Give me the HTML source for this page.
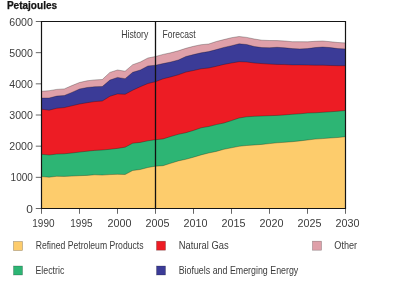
<!DOCTYPE html>
<html><head><meta charset="utf-8"><style>
html,body{margin:0;padding:0;background:#fff;width:400px;height:282px;overflow:hidden}
svg{display:block;will-change:transform}
text{font-family:"Liberation Sans",sans-serif;fill:#3c3c3c}
.b{fill:#141414;stroke:#141414;stroke-width:.25px}
</style></head><body>
<svg width="400" height="282" viewBox="0 0 400 282">
<rect width="400" height="282" fill="#fff"/>
<polygon fill="#DFA0A9" points="41.5,208.5 41.50,91.30 49.10,90.70 56.70,89.40 64.30,88.90 71.90,85.60 79.50,82.50 87.10,80.80 94.70,79.90 102.30,79.50 109.90,72.40 117.50,70.00 125.10,71.20 132.70,64.70 140.30,62.00 147.90,58.00 155.50,56.50 163.10,54.40 170.70,52.80 178.30,50.80 185.90,48.30 193.50,46.30 201.10,44.70 208.70,44.00 216.30,41.50 223.90,39.60 231.50,37.70 239.10,36.50 246.70,37.40 254.30,39.00 261.90,40.20 269.50,40.50 277.10,40.60 284.70,41.00 292.30,41.70 299.90,41.70 307.50,41.80 315.10,41.30 322.70,41.00 330.30,41.70 337.90,42.50 345.50,42.90 345.5,208.5"/>
<polygon fill="#3B3B97" points="41.5,208.5 41.50,98.00 49.10,98.00 56.70,96.10 64.30,95.50 71.90,92.40 79.50,89.00 87.10,87.50 94.70,86.70 102.30,86.50 109.90,80.10 117.50,77.40 125.10,78.70 132.70,72.30 140.30,70.00 147.90,66.00 155.50,65.20 163.10,63.60 170.70,62.00 178.30,60.00 185.90,56.50 193.50,54.60 201.10,52.80 208.70,51.60 216.30,49.60 223.90,47.40 231.50,45.70 239.10,43.80 246.70,44.50 254.30,46.50 261.90,47.60 269.50,47.70 277.10,47.30 284.70,47.80 292.30,48.60 299.90,48.90 307.50,48.60 315.10,47.60 322.70,47.00 330.30,47.60 337.90,48.60 345.50,48.90 345.5,208.5"/>
<polygon fill="#ED1C24" points="41.5,208.5 41.50,109.20 49.10,110.20 56.70,108.30 64.30,107.60 71.90,105.80 79.50,104.00 87.10,102.70 94.70,101.60 102.30,101.00 109.90,96.30 117.50,93.90 125.10,94.30 132.70,90.20 140.30,86.70 147.90,83.50 155.50,81.70 163.10,78.80 170.70,76.90 178.30,74.80 185.90,72.10 193.50,70.50 201.10,68.80 208.70,68.00 216.30,66.30 223.90,64.40 231.50,63.00 239.10,61.70 246.70,62.00 254.30,63.00 261.90,63.60 269.50,64.10 277.10,64.40 284.70,64.60 292.30,64.90 299.90,64.90 307.50,65.10 315.10,65.20 322.70,65.20 330.30,65.50 337.90,65.70 345.50,65.70 345.5,208.5"/>
<polygon fill="#2DB574" points="41.5,208.5 41.50,154.30 49.10,155.00 56.70,154.10 64.30,153.80 71.90,153.00 79.50,152.10 87.10,151.20 94.70,150.40 102.30,150.00 109.90,149.30 117.50,148.40 125.10,147.20 132.70,143.20 140.30,142.40 147.90,140.80 155.50,139.70 163.10,138.90 170.70,136.50 178.30,134.30 185.90,132.70 193.50,130.40 201.10,127.80 208.70,126.50 216.30,124.60 223.90,123.00 231.50,120.60 239.10,118.00 246.70,116.80 254.30,116.30 261.90,116.00 269.50,115.70 277.10,115.40 284.70,114.90 292.30,114.30 299.90,113.80 307.50,113.05 315.10,112.80 322.70,112.30 330.30,111.80 337.90,111.20 345.50,110.50 345.5,208.5"/>
<polygon fill="#FDCC6C" points="41.5,208.5 41.50,176.60 49.10,177.20 56.70,176.30 64.30,176.40 71.90,176.10 79.50,175.70 87.10,175.40 94.70,174.80 102.30,175.10 109.90,174.60 117.50,174.30 125.10,174.50 132.70,170.50 140.30,169.50 147.90,167.50 155.50,166.20 163.10,165.70 170.70,163.30 178.30,160.90 185.90,159.30 193.50,157.20 201.10,154.90 208.70,153.00 216.30,151.40 223.90,149.30 231.50,147.80 239.10,146.30 246.70,145.50 254.30,145.00 261.90,144.40 269.50,143.60 277.10,142.80 284.70,142.30 292.30,141.70 299.90,140.90 307.50,140.00 315.10,139.10 322.70,138.60 330.30,138.00 337.90,137.50 345.50,136.70 345.5,208.5"/>
<polyline fill="none" stroke="#000" stroke-opacity=".45" stroke-width=".6" points="41.50,91.30 49.10,90.70 56.70,89.40 64.30,88.90 71.90,85.60 79.50,82.50 87.10,80.80 94.70,79.90 102.30,79.50 109.90,72.40 117.50,70.00 125.10,71.20 132.70,64.70 140.30,62.00 147.90,58.00 155.50,56.50 163.10,54.40 170.70,52.80 178.30,50.80 185.90,48.30 193.50,46.30 201.10,44.70 208.70,44.00 216.30,41.50 223.90,39.60 231.50,37.70 239.10,36.50 246.70,37.40 254.30,39.00 261.90,40.20 269.50,40.50 277.10,40.60 284.70,41.00 292.30,41.70 299.90,41.70 307.50,41.80 315.10,41.30 322.70,41.00 330.30,41.70 337.90,42.50 345.50,42.90"/>
<polyline fill="none" stroke="#000" stroke-opacity=".45" stroke-width=".6" points="41.50,98.00 49.10,98.00 56.70,96.10 64.30,95.50 71.90,92.40 79.50,89.00 87.10,87.50 94.70,86.70 102.30,86.50 109.90,80.10 117.50,77.40 125.10,78.70 132.70,72.30 140.30,70.00 147.90,66.00 155.50,65.20 163.10,63.60 170.70,62.00 178.30,60.00 185.90,56.50 193.50,54.60 201.10,52.80 208.70,51.60 216.30,49.60 223.90,47.40 231.50,45.70 239.10,43.80 246.70,44.50 254.30,46.50 261.90,47.60 269.50,47.70 277.10,47.30 284.70,47.80 292.30,48.60 299.90,48.90 307.50,48.60 315.10,47.60 322.70,47.00 330.30,47.60 337.90,48.60 345.50,48.90"/>
<polyline fill="none" stroke="#000" stroke-opacity=".45" stroke-width=".6" points="41.50,109.20 49.10,110.20 56.70,108.30 64.30,107.60 71.90,105.80 79.50,104.00 87.10,102.70 94.70,101.60 102.30,101.00 109.90,96.30 117.50,93.90 125.10,94.30 132.70,90.20 140.30,86.70 147.90,83.50 155.50,81.70 163.10,78.80 170.70,76.90 178.30,74.80 185.90,72.10 193.50,70.50 201.10,68.80 208.70,68.00 216.30,66.30 223.90,64.40 231.50,63.00 239.10,61.70 246.70,62.00 254.30,63.00 261.90,63.60 269.50,64.10 277.10,64.40 284.70,64.60 292.30,64.90 299.90,64.90 307.50,65.10 315.10,65.20 322.70,65.20 330.30,65.50 337.90,65.70 345.50,65.70"/>
<polyline fill="none" stroke="#000" stroke-opacity=".45" stroke-width=".6" points="41.50,154.30 49.10,155.00 56.70,154.10 64.30,153.80 71.90,153.00 79.50,152.10 87.10,151.20 94.70,150.40 102.30,150.00 109.90,149.30 117.50,148.40 125.10,147.20 132.70,143.20 140.30,142.40 147.90,140.80 155.50,139.70 163.10,138.90 170.70,136.50 178.30,134.30 185.90,132.70 193.50,130.40 201.10,127.80 208.70,126.50 216.30,124.60 223.90,123.00 231.50,120.60 239.10,118.00 246.70,116.80 254.30,116.30 261.90,116.00 269.50,115.70 277.10,115.40 284.70,114.90 292.30,114.30 299.90,113.80 307.50,113.05 315.10,112.80 322.70,112.30 330.30,111.80 337.90,111.20 345.50,110.50"/>
<polyline fill="none" stroke="#000" stroke-opacity=".45" stroke-width=".6" points="41.50,176.60 49.10,177.20 56.70,176.30 64.30,176.40 71.90,176.10 79.50,175.70 87.10,175.40 94.70,174.80 102.30,175.10 109.90,174.60 117.50,174.30 125.10,174.50 132.70,170.50 140.30,169.50 147.90,167.50 155.50,166.20 163.10,165.70 170.70,163.30 178.30,160.90 185.90,159.30 193.50,157.20 201.10,154.90 208.70,153.00 216.30,151.40 223.90,149.30 231.50,147.80 239.10,146.30 246.70,145.50 254.30,145.00 261.90,144.40 269.50,143.60 277.10,142.80 284.70,142.30 292.30,141.70 299.90,140.90 307.50,140.00 315.10,139.10 322.70,138.60 330.30,138.00 337.90,137.50 345.50,136.70"/>
<line x1="35.8" y1="208.50" x2="41.5" y2="208.50" stroke="#555" stroke-width=".9"/>
<text x="26.30" y="212.60" font-size="11.1" textLength="6.60" lengthAdjust="spacingAndGlyphs">0</text>
<line x1="35.8" y1="177.33" x2="41.5" y2="177.33" stroke="#555" stroke-width=".9"/>
<text x="10.60" y="181.43" font-size="11.1" textLength="22.30" lengthAdjust="spacingAndGlyphs">1000</text>
<line x1="35.8" y1="146.17" x2="41.5" y2="146.17" stroke="#555" stroke-width=".9"/>
<text x="9.30" y="150.27" font-size="11.1" textLength="23.60" lengthAdjust="spacingAndGlyphs">2000</text>
<line x1="35.8" y1="115.00" x2="41.5" y2="115.00" stroke="#555" stroke-width=".9"/>
<text x="9.30" y="119.10" font-size="11.1" textLength="23.60" lengthAdjust="spacingAndGlyphs">3000</text>
<line x1="35.8" y1="83.83" x2="41.5" y2="83.83" stroke="#555" stroke-width=".9"/>
<text x="9.30" y="87.93" font-size="11.1" textLength="23.60" lengthAdjust="spacingAndGlyphs">4000</text>
<line x1="35.8" y1="52.67" x2="41.5" y2="52.67" stroke="#555" stroke-width=".9"/>
<text x="9.30" y="56.77" font-size="11.1" textLength="23.60" lengthAdjust="spacingAndGlyphs">5000</text>
<line x1="35.8" y1="21.50" x2="41.5" y2="21.50" stroke="#555" stroke-width=".9"/>
<text x="9.30" y="25.60" font-size="11.1" textLength="23.60" lengthAdjust="spacingAndGlyphs">6000</text>
<line x1="41.50" y1="208.5" x2="41.50" y2="213.8" stroke="#555" stroke-width=".9"/>
<text x="32.30" y="227.20" font-size="10.3" textLength="22.20" lengthAdjust="spacingAndGlyphs">1990</text>
<line x1="79.50" y1="208.5" x2="79.50" y2="213.8" stroke="#555" stroke-width=".9"/>
<text x="70.30" y="227.20" font-size="10.3" textLength="22.20" lengthAdjust="spacingAndGlyphs">1995</text>
<line x1="117.50" y1="208.5" x2="117.50" y2="213.8" stroke="#555" stroke-width=".9"/>
<text x="107.50" y="227.20" font-size="10.3" textLength="24.00" lengthAdjust="spacingAndGlyphs">2000</text>
<line x1="155.50" y1="208.5" x2="155.50" y2="213.8" stroke="#555" stroke-width=".9"/>
<text x="145.50" y="227.20" font-size="10.3" textLength="24.00" lengthAdjust="spacingAndGlyphs">2005</text>
<line x1="193.50" y1="208.5" x2="193.50" y2="213.8" stroke="#555" stroke-width=".9"/>
<text x="183.50" y="227.20" font-size="10.3" textLength="24.00" lengthAdjust="spacingAndGlyphs">2010</text>
<line x1="231.50" y1="208.5" x2="231.50" y2="213.8" stroke="#555" stroke-width=".9"/>
<text x="221.50" y="227.20" font-size="10.3" textLength="24.00" lengthAdjust="spacingAndGlyphs">2015</text>
<line x1="269.50" y1="208.5" x2="269.50" y2="213.8" stroke="#555" stroke-width=".9"/>
<text x="259.50" y="227.20" font-size="10.3" textLength="24.00" lengthAdjust="spacingAndGlyphs">2020</text>
<line x1="307.50" y1="208.5" x2="307.50" y2="213.8" stroke="#555" stroke-width=".9"/>
<text x="297.50" y="227.20" font-size="10.3" textLength="24.00" lengthAdjust="spacingAndGlyphs">2025</text>
<line x1="345.50" y1="208.5" x2="345.50" y2="213.8" stroke="#555" stroke-width=".9"/>
<text x="335.50" y="227.20" font-size="10.3" textLength="24.00" lengthAdjust="spacingAndGlyphs">2030</text>
<path d="M41.5,208.5 V21.5 H345.5 V208.5 Z" fill="none" stroke="#151515" stroke-width="1.2"/>
<line x1="155.5" y1="21.5" x2="155.5" y2="208.5" stroke="#111" stroke-width="1.3"/>
<text x="121.30" y="38.00" font-size="10.1" textLength="27.00" lengthAdjust="spacingAndGlyphs">History</text>
<text x="162.50" y="38.00" font-size="10.1" textLength="33.20" lengthAdjust="spacingAndGlyphs">Forecast</text>
<text x="6.90" y="8.75" font-size="10.5" textLength="50.20" lengthAdjust="spacingAndGlyphs" font-weight="bold" class="b">Petajoules</text>
<rect x="13.5" y="241.5" width="9" height="9" fill="#FDCC6C" stroke="#000" stroke-opacity=".35" stroke-width=".6"/>
<rect x="13.5" y="266" width="9" height="9" fill="#2DB574" stroke="#000" stroke-opacity=".35" stroke-width=".6"/>
<rect x="156.5" y="241.2" width="9" height="9" fill="#ED1C24" stroke="#000" stroke-opacity=".35" stroke-width=".6"/>
<rect x="156.5" y="266" width="9" height="9" fill="#3B3B97" stroke="#000" stroke-opacity=".35" stroke-width=".6"/>
<rect x="312.5" y="241.2" width="9" height="9" fill="#DFA0A9" stroke="#000" stroke-opacity=".35" stroke-width=".6"/>
<text x="35.70" y="249.30" font-size="10.1" textLength="107.80" lengthAdjust="spacingAndGlyphs">Refined Petroleum Products</text>
<text x="35.50" y="273.90" font-size="10.1" textLength="28.80" lengthAdjust="spacingAndGlyphs">Electric</text>
<text x="178.70" y="249.30" font-size="10.1" textLength="50.00" lengthAdjust="spacingAndGlyphs">Natural Gas</text>
<text x="178.70" y="273.90" font-size="10.1" textLength="119.60" lengthAdjust="spacingAndGlyphs">Biofuels and Emerging Energy</text>
<text x="334.30" y="249.30" font-size="10.1" textLength="22.80" lengthAdjust="spacingAndGlyphs">Other</text>
</svg>
</body></html>
